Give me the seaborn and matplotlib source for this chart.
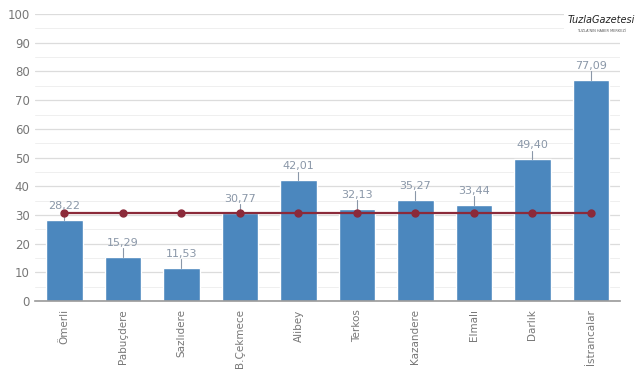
import matplotlib
matplotlib.use("Agg")
import matplotlib.pyplot as plt
import seaborn as sns
import pandas as pd

# barrage occupancy rates (%)
barajlar = ["Ömerli", "Pabuçdere", "Sazlıdere", "B.Çekmece", "Alibey",
            "Terkos", "Kazandere", "Elmalı", "Darlık", "İstrancalar"]
doluluk = [28.22, 15.29, 11.53, 30.77, 42.01, 32.13, 35.27, 33.44, 49.40, 77.09]
ortalama = [30.5] * len(barajlar)
y_ticks = [0, 10, 20, 30, 40, 50, 60, 70, 80, 90, 100]

df = pd.DataFrame({"baraj": barajlar, "doluluk": doluluk, "ortalama": ortalama})

sns.set_style("white")
plt.rcParams["font.family"] = ["DejaVu Sans"]

fig = plt.figure(figsize=(6.4, 3.72), dpi=100)
ax = fig.add_axes([0.055, 0.191, 0.914, 0.771])

sns.barplot(data=df, x="baraj", y="doluluk", color="#4b87be", width=0.62,
            saturation=1, ax=ax, zorder=2)
ax.plot(range(len(barajlar)), df["ortalama"], color="#8b2a3a", lw=1.6,
        marker="o", ms=5, zorder=4)

# value labels with small leader line
for i, v in enumerate(doluluk):
    ax.plot([i, i], [v, v + 3.0], color="#8a97a8", lw=0.8, zorder=3)
    ax.text(i, v + 3.2, f"{v:.2f}".replace(".", ","), ha="center", va="bottom",
            fontsize=8, color="#8a97a8", zorder=5)

ax.set_ylim(0, 100)
ax.set_xlim(-0.5, len(barajlar) - 0.5)
ax.set_yticks(y_ticks)
ax.set_yticks(range(5, 100, 10), minor=True)
ax.grid(axis="y", which="major", color="#dcdcdc", lw=0.9, zorder=0)
ax.grid(axis="y", which="minor", color="#efefef", lw=0.7, zorder=0)
ax.set_axisbelow(True)
ax.tick_params(axis="y", which="both", length=0, labelsize=8.5, labelcolor="#777777", pad=4)
ax.tick_params(axis="x", length=0, labelsize=7.5, labelcolor="#777777", pad=6)
plt.setp(ax.get_xticklabels(), rotation=90)
ax.set_xlabel("")
ax.set_ylabel("")
sns.despine(ax=ax, left=True)
ax.spines["bottom"].set_color("#999999")
ax.spines["bottom"].set_linewidth(1.2)

fig.text(0.94, 0.946, "TuzlaGazetesi", fontsize=7, style="italic",
         color="#222222", ha="center", va="center",
         bbox=dict(facecolor="white", edgecolor="none", pad=3))
fig.text(0.94, 0.918, "TUZLA'NIN HABER MERKEZİ", fontsize=2.5,
         color="#555555", ha="center", va="center")

fig.savefig("out.png", dpi=100)
